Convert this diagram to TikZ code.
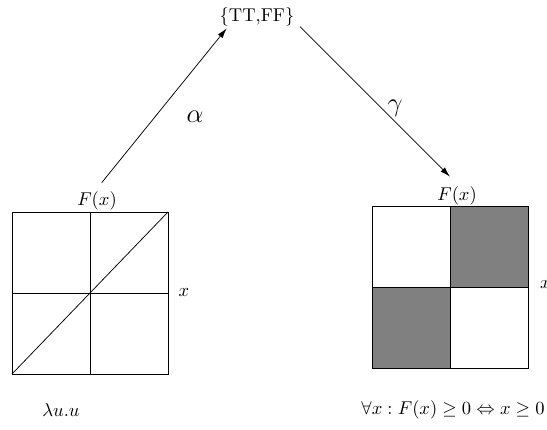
\documentclass[tikz,border=0pt]{standalone}
\usepackage{amssymb}
\usetikzlibrary{arrows.meta}
\begin{document}
\begin{tikzpicture}[x=0.54pt,y=-0.54pt]
	\useasboundingbox (0,0) rectangle (547,429);
	\fill[gray] (450,206) rectangle (528,287);	%upper right cell
	\fill[gray] (372,287) rectangle (450,368);	%lower left cell
	\foreach \bx/\by in {12/212,372/206}{
		\draw (\bx,\by) rectangle (\bx+156,\by+162);
		\draw (\bx+78,\by)--(\bx+78,\by+162);
		\draw (\bx,\by+81)--(\bx+156,\by+81);
	}
	\draw (12,374)--(168,212);		%identity
	%ARROWS
	\node (set) at (257,16.7) [inner sep=1pt] {\{TT,FF\}};
	\coordinate (alphafrom) at (101.7,182.7);
	\coordinate (alphato) at (226.7,28.3);
	\coordinate (gammafrom) at (300,26.7);
	\coordinate (gammato) at (450,176.7);
	\draw[-{Latex[length=5.5pt,width=3.2pt]}] (alphafrom)--(alphato);
	\draw[-{Latex[length=5.5pt,width=3.2pt]}] (gammafrom)--(gammato);
	%LABELS
	\node (alpha) at (195,117) {\Large $\alpha$};
	\node (gamma) at (395,108) {\Large $\gamma$};
	\node (lfx) at (97,201) {$F(x)$};
	\node (rfx) at (457,196) {$F(x)$};
	\node (lx) at (184,293) {$x$};
	\node (rx) at (545.5,285) {$x$};
	\node (lam) at (61,410) {$\lambda u.u$};
	\node (cond) at (453,410) {$\forall x : F(x) \geq 0 \Leftrightarrow x \geq 0$};
\end{tikzpicture}
\end{document}
